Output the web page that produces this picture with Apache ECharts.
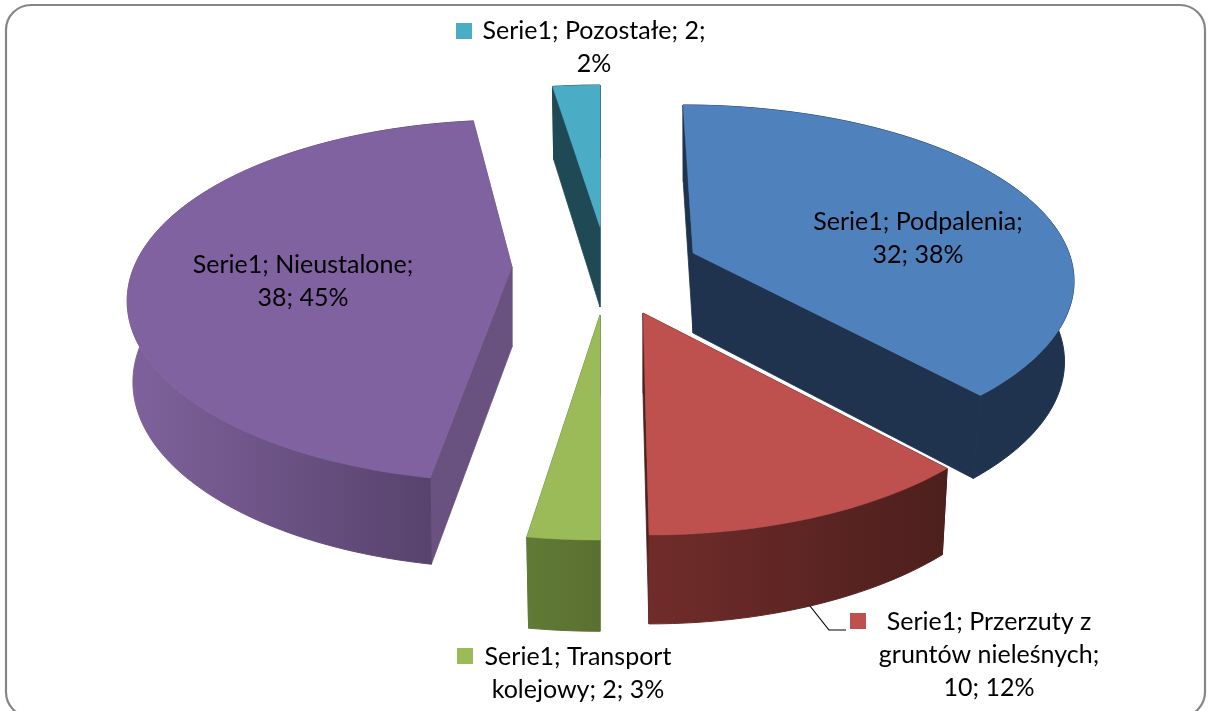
<!DOCTYPE html>
<html>
<head>
<meta charset="utf-8">
<style>html,body{margin:0;padding:0;background:#fff}#c{width:1211px;height:711px}</style>
<script src="https://cdn.jsdelivr.net/npm/echarts@6/dist/echarts.min.js"></script>
</head>
<body>
<div id="c"></div>
<script>
// ---- data ----
const categories = ['Podpalenia', 'Przerzuty z gruntów nieleśnych', 'Transport kolejowy', 'Nieustalone', 'Pozostałe'];
const values = [32, 10, 2, 38, 2];
const labelLines = [
  ['Serie1; Podpalenia;', '32; 38%'],
  ['Serie1; Przerzuty z', 'gruntów nieleśnych;', '10; 12%'],
  ['Serie1; Transport', 'kolejowy; 2; 3%'],
  ['Serie1; Nieustalone;', '38; 45%'],
  ['Serie1; Pozostałe; 2;', '2%']
];

// ---- look and layout of the exploded perspective pie ----
const topColors = ['#4F81BD', '#BE504D', '#9BBB59', '#8062A0', '#4BACC6'];
const cutColors = ['#1F324E', '#4E201E', '#5F7735', '#69527F', '#1F4A55'];
const wallColors = [
  ['#1F324E', '#1F324E'], ['#702C2A', '#4C1F1D'], ['#617A36', '#5A7030'],
  ['#7F629C', '#523E66'], ['#1F4A55', '#1F4A55']
];
const sliceGeo = [
  { ax: 693, ay: 253, dx: -10, dy: 0, A: 386, B: 171.7, P: 0.16, k: 0.02, s: 0.025, rot: 0 },
  { ax: 643, ay: 313, dx: 6, dy: 7, A: 378, B: 174.6, P: 0.188, k: 0.04, s: 0.016, rot: 0 },
  { ax: 600, ay: 315, dx: 0, dy: 10, A: 400, B: 174.6, P: 0.188, k: 0.05, s: 0.025, rot: 0 },
  { ax: 512, ay: 267, dx: 0, dy: 0, A: 378, B: 174.6, P: 0.188, k: 0.03, s: 0.015, rot: 1.6 },
  { ax: 600, ay: 227, dx: 0, dy: 5, A: 378, B: 174.6, P: 0.188, k: 0.05, s: 0.025, rot: 0 }
];
const labelPos = [[918, 238.5], [989, 655], [578, 673], [303, 281], [594, 47.5]];
const keyPos = [null, [850, 613], [457, 648], null, [456, 23]];
const DEPTH = 80;
const FONT = '25px Lato, "Open Sans", sans-serif';

const total = values.reduce((a, b) => a + b, 0);
const startAngle = [];
values.reduce((acc, v, i) => { startAngle[i] = acc; return acc + v / total * 2 * Math.PI; }, 0);

function rim(g, t0) {
  const t = t0 + g.rot * Math.PI / 180;
  const w = 1 + g.P * Math.cos(t);
  return [g.ax + g.dx + g.A * Math.sin(t) / w, g.ay + g.dy - g.B * Math.cos(t) / w];
}
function lower(g, p) {
  return [p[0] - g.s * (p[0] - g.ax), p[1] + DEPTH + g.k * (p[1] - g.ay)];
}

function renderItem(params, api) {
  const i = api.value(0);
  const v = api.value(1);
  const g = sliceGeo[i];
  const t0 = startAngle[i], t1 = t0 + v / total * 2 * Math.PI;
  const steps = Math.max(4, Math.ceil((t1 - t0) / (Math.PI / 120)));
  const arc = [];
  for (let s = 0; s <= steps; s++) arc.push(rim(g, t0 + (t1 - t0) * s / steps));
  const arcLow = arc.map(p => lower(g, p));
  const apex = [g.ax, g.ay];
  const apexLow = lower(g, apex);
  const first = arc[0], last = arc[arc.length - 1];
  const poly = (points, fill, lw) => ({ type: 'polygon', shape: { points }, style: { fill, stroke: fill, lineWidth: lw }, silent: true });
  const children = [
    poly([apex, first, arcLow[0], apexLow], cutColors[i], 0.8),
    poly([apex, last, arcLow[arcLow.length - 1], apexLow], cutColors[i], 0.8),
    poly(arc.concat(arcLow.slice().reverse()), {
      type: 'linear', x: 0, y: 0, x2: 1, y2: 0,
      colorStops: [{ offset: 0, color: wallColors[i][0] }, { offset: 1, color: wallColors[i][1] }]
    }, 1),
    poly([apex].concat(arc), topColors[i], 0.4)
  ];
  if (keyPos[i]) {
    children.push({ type: 'rect', shape: { x: keyPos[i][0], y: keyPos[i][1], width: 16, height: 16 }, style: { fill: topColors[i] }, silent: true, z2: 10 });
  }
  children.push({
    type: 'text', silent: true, z2: 10,
    style: {
      text: labelLines[i].join('\n'), x: labelPos[i][0], y: labelPos[i][1],
      align: 'center', verticalAlign: 'middle', font: FONT, lineHeight: 33, fill: '#000'
    }
  });
  return { type: 'group', children };
}

const chart = echarts.init(document.getElementById('c'), null, { renderer: 'canvas' });
chart.setOption({
  animation: false,
  backgroundColor: '#fff',
  graphic: { elements: [
    { type: 'rect', z: -10, silent: true, shape: { x: 6, y: 5, width: 1199, height: 712, r: 25 }, style: { fill: '#fff', stroke: '#868686', lineWidth: 2.2 } },
    { type: 'polyline', z: 50, silent: true, shape: { points: [[810, 606], [829, 630], [846, 630]] }, style: { fill: null, stroke: '#000', lineWidth: 1.2 } }
  ] },
  series: [{
    type: 'custom',
    coordinateSystem: 'none',
    name: 'Serie1',
    data: values.map((v, i) => ({ name: categories[i], value: [i, v] })),
    renderItem
  }]
});
</script>
</body>
</html>
